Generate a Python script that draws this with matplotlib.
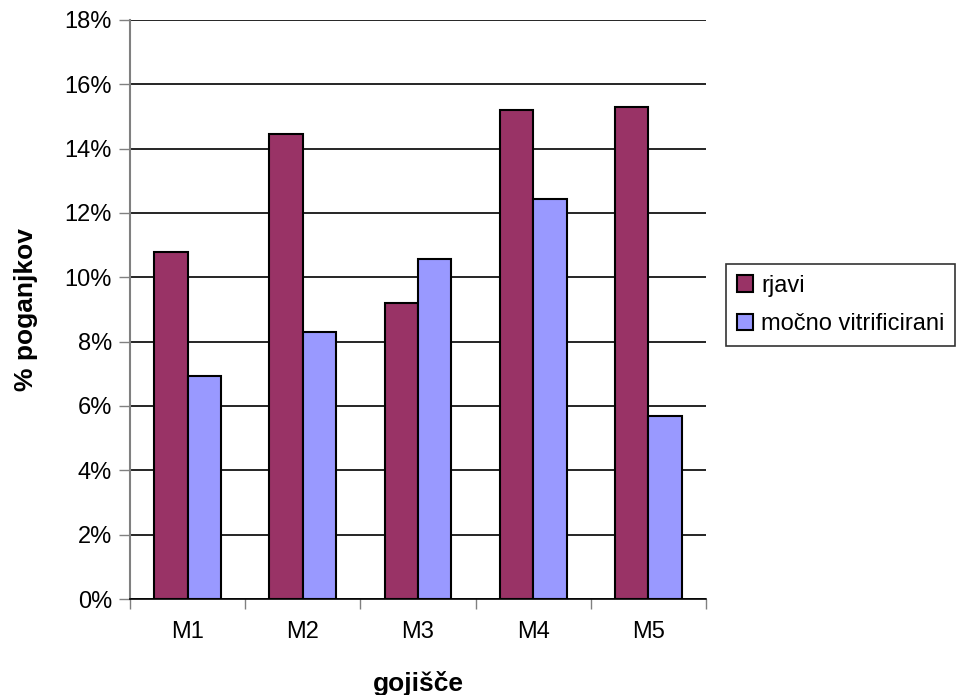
import numpy as np
import matplotlib
matplotlib.use("Agg")
import matplotlib.pyplot as plt
from matplotlib.ticker import FuncFormatter, FixedLocator

plt.rcParams["font.family"] = ["Liberation Sans", "DejaVu Sans"]

categories = ["M1", "M2", "M3", "M4", "M5"]
rjavi = [10.8, 14.45, 9.19, 15.2, 15.3]
vitrificirani = [6.93, 8.31, 10.56, 12.44, 5.68]
series_names = ["rjavi", "močno vitrificirani"]

fig = plt.figure(figsize=(9.71, 6.95), dpi=100)
ax = fig.add_axes([130 / 971, 1 - 599 / 695, 576 / 971, 579 / 695])

x = np.arange(len(categories))
w = 0.29
ax.bar(x - w / 2, rjavi, w, color="#993366", edgecolor="black", linewidth=1.5,
       label=series_names[0], zorder=3)
ax.bar(x + w / 2, vitrificirani, w, color="#9999FF", edgecolor="black", linewidth=1.5,
       label=series_names[1], zorder=3)

ax.set_xlim(-0.5, len(categories) - 0.5)
ax.set_ylim(0, 18)
ax.set_yticks(np.arange(0, 19, 2))
ax.yaxis.set_major_formatter(FuncFormatter(lambda v, _: f"{v:.0f}%"))
ax.yaxis.grid(True, color="black", linewidth=1.2, zorder=0)

# category labels centred, tick marks on the boundaries
ax.set_xticks(x)
ax.set_xticklabels(categories)
ax.tick_params(axis="x", length=0, pad=16, labelsize=17)
ax.xaxis.set_minor_locator(FixedLocator(np.arange(-0.5, len(categories), 1)))
ax.tick_params(axis="x", which="minor", length=7, width=1, color="gray", direction="out")
ax.tick_params(axis="y", length=8, width=1, color="gray", direction="out", labelsize=17, pad=5)

for s in ["top", "right"]:
    ax.spines[s].set_visible(False)
ax.spines["left"].set_color("gray")
ax.spines["left"].set_linewidth(1.5)
ax.spines["bottom"].set_color("black")
ax.spines["bottom"].set_linewidth(1.2)

ax.set_ylabel("% poganjkov", fontsize=19, fontweight="bold", labelpad=19)
ax.set_xlabel("gojišče", fontsize=19, fontweight="bold", labelpad=20)

leg = fig.legend(loc="upper left", bbox_to_anchor=(726 / 971, 1 - 264 / 695),
                 fontsize=17, frameon=True, fancybox=False, edgecolor="black",
                 handlelength=0.7, handleheight=0.7, handletextpad=0.35,
                 borderpad=0.45, labelspacing=0.7, borderaxespad=0)
leg.get_frame().set_linewidth(1.2)

fig.savefig("out.png", dpi=100)
